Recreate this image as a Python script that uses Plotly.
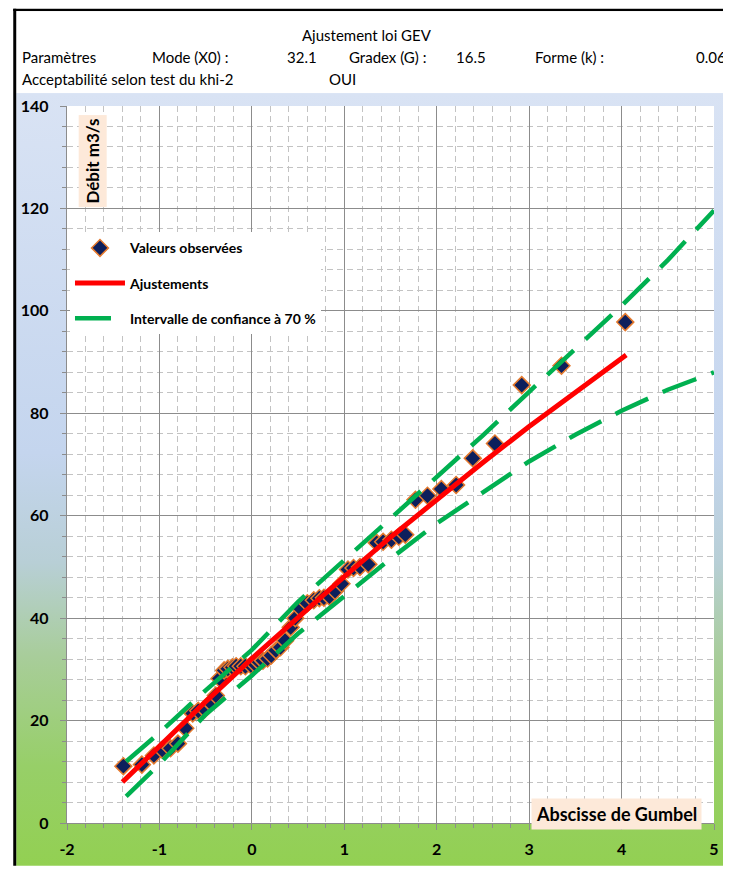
import base64
import plotly.graph_objects as go

# ---------------- data ----------------
u_obs = [-1.39, -1.19, -1.06, -0.97, -0.88, -0.80, -0.72, -0.64, -0.58, -0.51,
         -0.45, -0.39, -0.35, -0.30, -0.26, -0.21, -0.17, -0.12, -0.07, -0.01,
         0.03, 0.08, 0.12, 0.17, 0.21, 0.26, 0.31, 0.36, 0.42, 0.47,
         0.53, 0.60, 0.67, 0.73, 0.78, 0.84, 0.90, 0.97, 1.04, 1.10,
         1.17, 1.26, 1.35, 1.42, 1.51, 1.59, 1.66, 1.77, 1.90, 2.05,
         2.21, 2.39, 2.63, 2.92, 3.35, 4.04]
q_obs = [11.1, 11.4, 13.2, 14.3, 14.6, 15.5, 18.5, 21.4, 21.9, 22.2,
         23.5, 24.9, 28.2, 29.8, 30.1, 30.4, 30.6, 30.6, 30.6, 30.8,
         31.1, 31.4, 31.7, 32.1, 32.7, 33.7, 34.3, 35.6, 38.2, 40.0,
         41.8, 42.9, 43.5, 43.9, 44.0, 44.2, 45.3, 46.7, 49.5, 49.8,
         50.0, 50.5, 54.7, 54.9, 55.3, 55.9, 56.3, 63.1, 63.9, 65.2,
         66.0, 71.2, 74.1, 85.5, 89.3, 97.8]

u_fit = [-1.40, -1.0, -0.5, 0.0, 0.5, 1.0, 1.5, 2.0, 2.5, 3.0, 3.5, 4.05]
q_fit = [8.0, 15.1, 23.7, 32.1, 40.2, 48.1, 55.8, 63.2, 70.4, 77.4, 84.2, 91.4]

u_ci = [-1.36, -1.0, -0.5, 0.0, 0.5, 1.0, 1.5, 2.0, 2.5, 3.0, 3.5, 4.0, 4.5, 5.0]
q_ci_upper = [12.0, 17.6, 25.9, 33.8, 43.2, 51.3, 59.5, 67.5, 75.7, 84.2, 92.6, 101.0, 109.9, 119.6]
q_ci_lower = [5.2, 11.5, 21.2, 28.8, 37.0, 44.2, 51.6, 58.5, 64.6, 70.6, 75.8, 80.5, 84.6, 88.0]

x_ticks = [-2, -1, 0, 1, 2, 3, 4, 5]
y_ticks = [0, 20, 40, 60, 80, 100, 120, 140]

# ---------------- geometry (reference pixels) ----------------
# the page body has an 8px margin, so the figure starts at (8, 8)
OX, OY = 8, 8
RW, RH = 731, 870
W, H = RW - OX, RH - OY
PL, PR, PT, PB = 67, 717, 106, 827
PW, PH = PR - PL, PB - PT


def xp(px):
    return (px - PL) / PW


def yp(py):
    return (PB - py) / PH


# background drawn as an SVG (gradient frame, white header, borders)
svg = f'''<svg xmlns="http://www.w3.org/2000/svg" width="{W}" height="{H}" viewBox="{OX} {OY} {W} {H}" preserveAspectRatio="none">
<defs><linearGradient id="g" x1="0" y1="0" x2="0" y2="1">
<stop offset="0" stop-color="#D9E3F4"/>
<stop offset="0.46" stop-color="#C4D5EE"/>
<stop offset="0.60" stop-color="#B8CFD6"/>
<stop offset="0.72" stop-color="#A8CD9A"/>
<stop offset="0.86" stop-color="#97CF68"/>
<stop offset="1" stop-color="#92D050"/>
</linearGradient></defs>
<rect x="0" y="0" width="{RW + 10}" height="{RH + 10}" fill="#FFFFFF"/>
<rect x="16" y="93" width="{RW - 6}" height="{RH - 83}" fill="url(#g)"/>
<rect x="{PL}" y="{PT}" width="{PW}" height="{PH}" fill="#FFFFFF"/>
<rect x="13" y="8" width="3" height="{RH}" fill="#000000"/>
<rect x="13" y="8" width="{RW}" height="2.5" fill="#000000"/>
</svg>'''
svg_uri = "data:image/svg+xml;base64," + base64.b64encode(svg.encode()).decode()

fig = go.Figure()

fig.add_trace(go.Scatter(
    x=u_obs, y=q_obs, mode="markers", name="Valeurs observées",
    legendgroup="obs",
    marker=dict(symbol="diamond", size=13, color="#0D1F5C",
                line=dict(color="#E57A2E", width=1.5)),
))
fig.add_trace(go.Scatter(
    x=u_fit, y=q_fit, mode="lines", name="Ajustements", legendgroup="fit",
    line=dict(color="#FF0000", width=5),
))
fig.add_trace(go.Scatter(
    x=u_ci, y=q_ci_upper, mode="lines", name="Intervalle de confiance à 70 %",
    legendgroup="ci", line=dict(color="#00B050", width=4.5, dash="36px,16px"),
))
fig.add_trace(go.Scatter(
    x=u_ci, y=q_ci_lower, mode="lines", name="Intervalle de confiance à 70 %",
    legendgroup="ci", showlegend=False,
    line=dict(color="#00B050", width=4.5, dash="36px,16px"),
))

tickfont = dict(family="Lato", size=16, color="#000000", weight="bold")
grid_major = "#8C8C8C"
grid_minor = dict(showgrid=True, gridcolor="#C3C3C3", gridwidth=1,
                  griddash="6px,4px", ticks="outside", ticklen=4,
                  tickcolor=grid_major)

fig.update_xaxes(
    range=[-2, 5], tickvals=x_ticks, ticktext=[str(v) for v in x_ticks],
    showgrid=True, gridcolor=grid_major, gridwidth=1.3, zeroline=False,
    showline=True, linecolor=grid_major, linewidth=1.3,
    ticks="outside", ticklen=6, tickcolor=grid_major, tickfont=tickfont,
    ticklabelstandoff=6,
    minor=dict(dtick=0.2, **grid_minor),
)
fig.update_yaxes(
    range=[0, 140], tickvals=y_ticks, ticktext=[str(v) for v in y_ticks],
    showgrid=True, gridcolor=grid_major, gridwidth=1.3, zeroline=False,
    showline=True, linecolor=grid_major, linewidth=1.3,
    ticks="outside", ticklen=6, tickcolor=grid_major, tickfont=tickfont,
    ticklabelstandoff=8,
    minor=dict(dtick=4, **grid_minor),
)

hdr = dict(family="Lato", size=15, color="#000000")
ann = []


def text(px, py, s, anchor="left", font=hdr):
    ann.append(dict(x=xp(px), y=yp(py), xref="paper", yref="paper", text=s,
                    showarrow=False, xanchor=anchor, yanchor="middle", font=font))


text(368, 35, "Ajustement loi GEV", "center")
text(20, 57, "Paramètres")
text(150, 57, "Mode (X0) :")
text(320, 57, "32.1", "right")
text(348, 57, "Gradex (G) :")
text(490, 57, "16.5", "right")
text(535, 57, "Forme (k) :")
text(731, 57, "0.06", "right")
text(20, 79, "Acceptabilité selon test du khi-2")
text(328, 79, "OUI")

ann.append(dict(x=xp(93), y=yp(161), xref="paper", yref="paper",
                text="Débit m3/s", textangle=-90, showarrow=False,
                xanchor="center", yanchor="middle",
                font=dict(family="Lato", size=17, color="#000000", weight="bold"),
                bgcolor="#FDE9D9", borderpad=3))
ann.append(dict(x=xp(619), y=yp(818), xref="paper", yref="paper",
                text="Abscisse de Gumbel", showarrow=False,
                xanchor="center", yanchor="middle",
                font=dict(family="Lato", size=18, color="#000000", weight="bold"),
                bgcolor="#FDE9D9", borderpad=4))

fig.update_layout(
    width=W, height=H, autosize=False,
    margin=dict(l=PL - OX, r=RW - PR, t=PT - OY, b=RH - PB, pad=0),
    paper_bgcolor="#FFFFFF", plot_bgcolor="#FFFFFF",
    images=[dict(source=svg_uri, xref="paper", yref="paper",
                 x=xp(OX), y=yp(OY), sizex=W / PW, sizey=H / PH,
                 xanchor="left", yanchor="top", sizing="stretch",
                 layer="below")],
    annotations=ann,
    showlegend=True,
    legend=dict(x=xp(70), y=yp(233), xanchor="left", yanchor="top",
                bgcolor="#FFFFFF", borderwidth=0,
                font=dict(family="Lato", size=14, color="#000000", weight="bold"),
                traceorder="grouped", tracegroupgap=14, itemwidth=50),
)

fig.write_html("out.html")
